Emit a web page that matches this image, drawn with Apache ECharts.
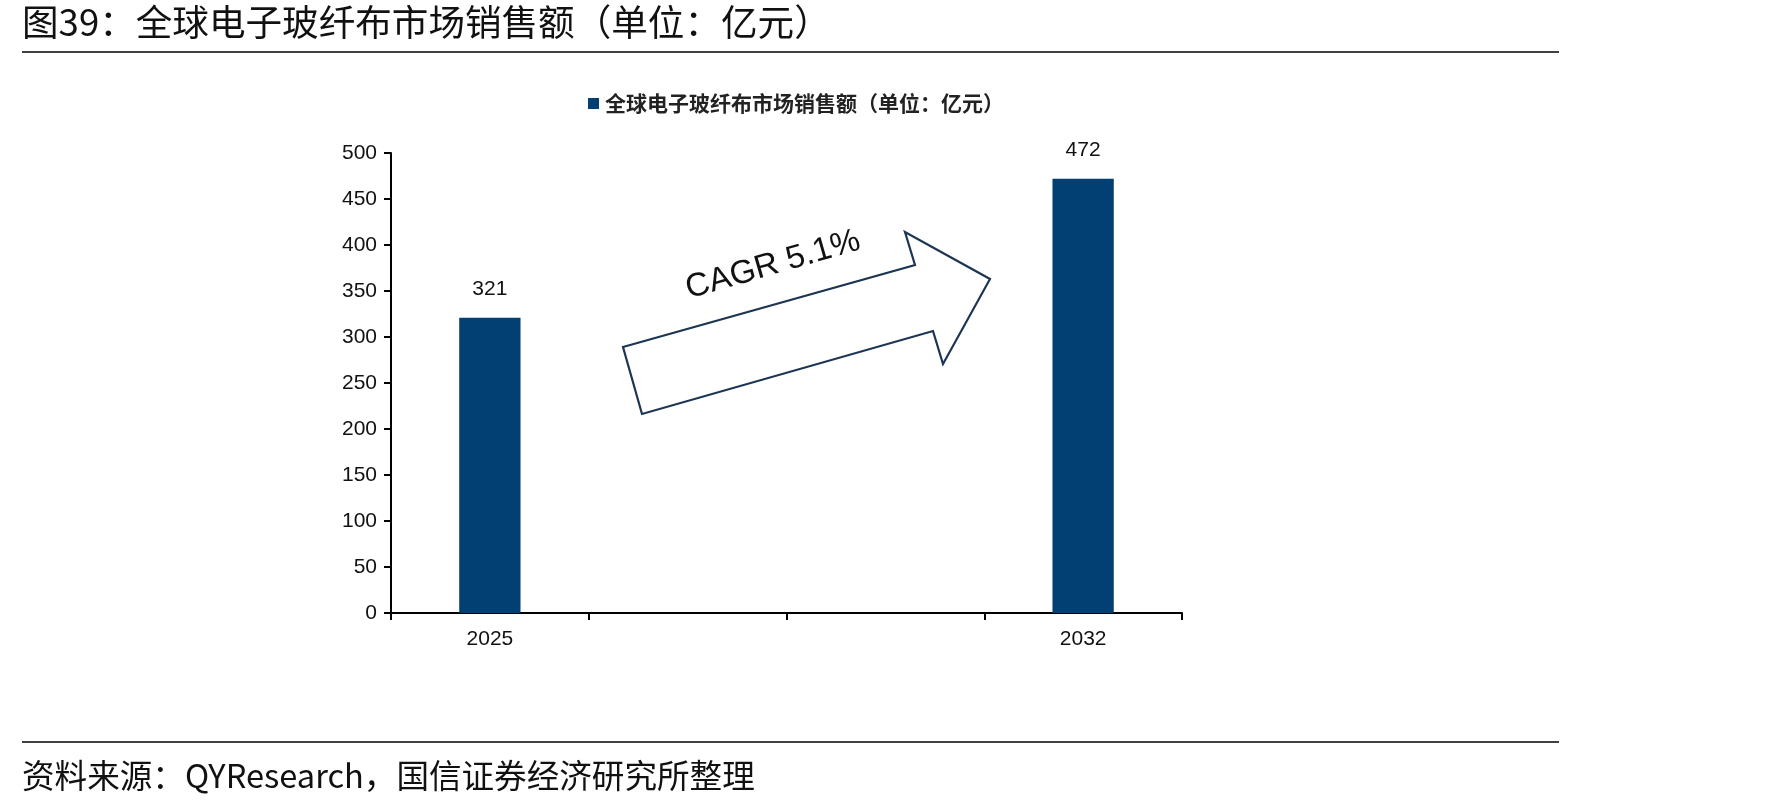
<!DOCTYPE html>
<html>
<head>
<meta charset="utf-8">
<script src="https://cdn.jsdelivr.net/npm/echarts@6/dist/echarts.min.js"></script>
<style>
html,body{margin:0;padding:0;background:#fff;}
#main{width:1771px;height:809px;}
</style>
</head>
<body>
<div id="main"></div>
<script>
const titleText = '图39：全球电子玻纤布市场销售额（单位：亿元）';
const sourceText = '资料来源：QYResearch，国信证券经济研究所整理';
const seriesName = '全球电子玻纤布市场销售额（单位：亿元）';
const categories = ['2025', '', '', '2032'];
const salesValues = [321, null, null, 472];
const cagrText = 'CAGR 5.1%';

const chart = echarts.init(document.getElementById('main'));
const navy = '#023f73';
const cjk = '"Noto Sans CJK SC", "Noto Sans", sans-serif';
const latin = 'Liberation Sans, Arial, sans-serif';

chart.setOption({
  backgroundColor: '#fff',
  animation: false,
  textStyle: { fontFamily: latin },
  legend: {
    data: [seriesName],
    left: 583,
    top: 88,
    icon: 'rect',
    itemWidth: 11,
    itemHeight: 11,
    textStyle: { fontFamily: cjk, fontSize: 21, fontWeight: 'bold', color: '#222', padding: [0, 0, 0, 1] }
  },
  grid: { left: 391, top: 153, right: 589, bottom: 196, containLabel: false },
  xAxis: {
    type: 'category',
    data: categories,
    boundaryGap: true,
    axisLine: { lineStyle: { color: '#000', width: 2 } },
    axisTick: { show: true, interval: 0, length: 7, lineStyle: { color: '#000', width: 2 } },
    axisLabel: { interval: 0, margin: 16, fontSize: 21, color: '#111', fontFamily: latin }
  },
  yAxis: {
    type: 'value',
    min: 0,
    max: 500,
    interval: 50,
    splitLine: { show: false },
    axisLine: { show: true, lineStyle: { color: '#000', width: 2 } },
    axisTick: { show: true, length: 7, lineStyle: { color: '#000', width: 2 } },
    axisLabel: { margin: 14, fontSize: 21, color: '#111', fontFamily: latin }
  },
  series: [{
    name: seriesName,
    type: 'bar',
    data: salesValues,
    barWidth: '31%',
    itemStyle: { color: navy },
    label: { show: true, position: 'top', distance: 18, fontSize: 21, color: '#111', fontFamily: latin }
  }],
  graphic: [
    { type: 'text', left: 22, top: 4, style: { text: titleText, font: '36.6px "Noto Sans CJK SC"', fill: '#111' } },
    { type: 'line', shape: { x1: 22, y1: 52, x2: 1559, y2: 52 }, style: { stroke: '#000', lineWidth: 1.5 } },
    { type: 'line', shape: { x1: 22, y1: 742, x2: 1559, y2: 742 }, style: { stroke: '#000', lineWidth: 1.5 } },
    { type: 'text', left: 22, top: 759, style: { text: sourceText, font: '32.6px "Noto Sans CJK SC"', fill: '#111' } },
    { type: 'polygon', shape: { points: [[623, 347], [915, 265], [905, 232], [990, 279], [943, 364], [933, 331], [642, 414]] },
      style: { fill: '#fff', stroke: '#1c3553', lineWidth: 2.2 } },
    { type: 'text', x: 773, y: 265, rotation: 16 * Math.PI / 180,
      style: { text: cagrText, font: '33px "Liberation Sans"', fill: '#111', align: 'center', verticalAlign: 'middle' } }
  ]
});
</script>
</body>
</html>
